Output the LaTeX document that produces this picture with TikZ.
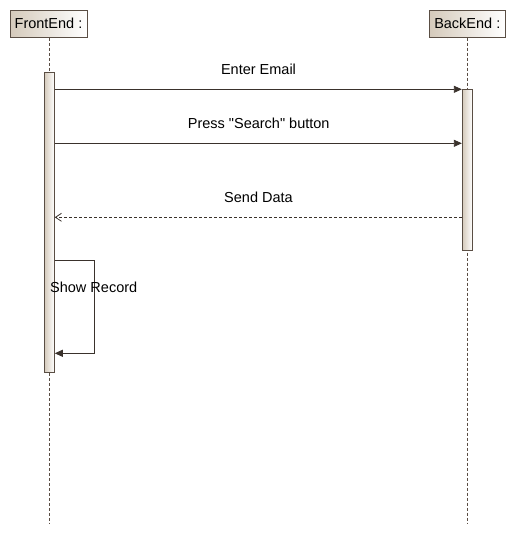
\documentclass[tikz,border=0pt]{standalone}
\usepackage{fontspec}
\setmainfont{Liberation Sans}[Ligatures=TeXOff]
\usetikzlibrary{arrows.meta}
\definecolor{edge}{HTML}{5A4E44}
\definecolor{msgc}{HTML}{3A322C}
\definecolor{beige}{HTML}{D5CABB}
\begin{document}
\begin{tikzpicture}[x=1pt,y=-1pt,
  every node/.style={inner sep=0pt, font=\fontsize{14.5}{16}\selectfont},
  lifebox/.style={draw=edge, line width=0.9pt, left color=beige, right color=white, minimum width=77pt, minimum height=27pt},
  actbar/.style={draw=edge, line width=0.9pt, left color=beige, right color=white, minimum width=10pt, anchor=north},
  lifeline/.style={draw=edge, line width=0.8pt, dash pattern=on 3pt off 2pt},
  msg/.style={draw=msgc, line width=0.8pt, -{Triangle[length=8pt,width=7pt]}},
  reply/.style={draw=msgc, line width=0.8pt, dash pattern=on 3pt off 2pt, -{Straight Barb[length=6pt,width=8pt]}},
  lbl/.style={text=black}]
\useasboundingbox (0,0) rectangle (516,533);
% lifeline heads
\node[lifebox] (fe) at (48.5,23.7) {FrontEnd :};
\node[lifebox, minimum width=76pt] (be) at (467.3,23.7) {BackEnd :};
% lifeline ends
\coordinate (feend) at (49.3,522.7);
\coordinate (beend) at (467.3,522.7);
\draw[lifeline] (fe.south -| feend) -- (feend);
\draw[lifeline] (be.south -| beend) -- (beend);
% activation bars
\node[actbar, minimum height=300pt] (fa) at (49.3,72) {};
\node[actbar, minimum height=161pt] (ba) at (467.3,89.3) {};
% message levels
\coordinate (m1) at (0,89.3);
\coordinate (m2) at (0,143.3);
\coordinate (m3) at (0,217.3);
\coordinate (s1) at (94.3,260);
\coordinate (s2) at (94.3,353.3);
% messages
\draw[msg] (fa.east |- m1) -- (ba.west |- m1);
\node[lbl] (l1) at (258.5,69) {Enter Email};
\draw[msg] (fa.east |- m2) -- (ba.west |- m2);
\node[lbl] (l2) at (258.7,123) {Press "Search" button};
\draw[reply] (ba.west |- m3) -- (fa.east |- m3);
\node[lbl] (l3) at (258.5,197) {Send Data};
\draw[msg] (fa.east |- s1) -- (s1) -- (s2) -- (fa.east |- s2);
\node[lbl, anchor=west] (l4) at (50,287) {Show Record};
\end{tikzpicture}
\end{document}
